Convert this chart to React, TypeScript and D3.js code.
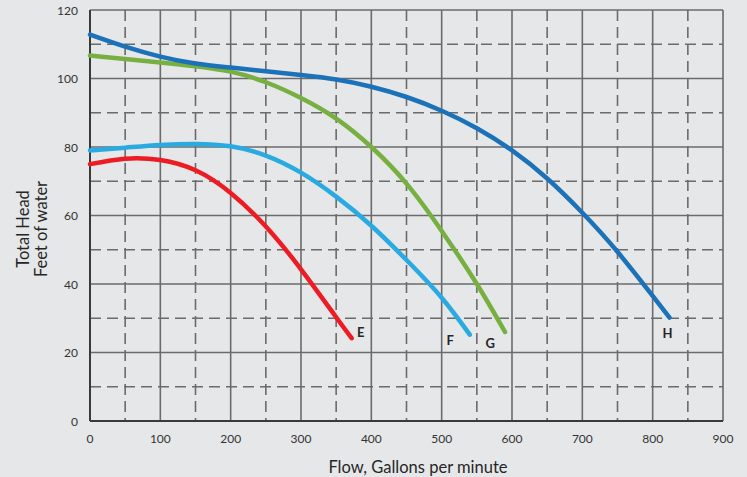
import React from "react";
import * as d3 from "d3";

const W = 747;
const H = 477;

const xTicks = [0, 100, 200, 300, 400, 500, 600, 700, 800, 900];
const yTicks = [0, 20, 40, 60, 80, 100, 120];

const seriesNames = ["E", "F", "G", "H"];
const seriesColors = ["#ed1c24", "#29abe2", "#77b041", "#1b72b9"];

const curveE: [number, number][] = [
  [0, 75], [50, 76.6], [100, 76.2], [150, 73.2], [200, 66.6], [250, 56.8],
  [300, 44.3], [350, 30.3], [372, 24.2],
];
const curveF: [number, number][] = [
  [0, 79], [50, 79.8], [100, 80.6], [150, 80.9], [200, 80.2], [250, 77.5],
  [300, 72.5], [350, 65.5], [400, 57], [450, 47], [500, 36], [540, 25.2],
];
const curveG: [number, number][] = [
  [0, 106.7], [50, 105.7], [100, 104.7], [150, 103.6], [200, 102], [250, 98.9],
  [300, 94.3], [350, 88.3], [400, 80], [450, 69.3], [500, 55.5], [550, 40],
  [590, 26],
];
const curveH: [number, number][] = [
  [0, 112.8], [50, 109.3], [100, 106.4], [150, 104.4], [200, 103.2], [250, 102.1],
  [300, 101], [350, 99.7], [400, 97.6], [450, 94.6], [500, 90.6], [550, 85.5],
  [600, 79], [650, 70.8], [700, 60.8], [750, 49.4], [800, 36.5], [824, 30.2],
];
const curves = [curveE, curveF, curveG, curveH];

// label anchors in data units
const labelX = [385, 512, 569, 821];
const labelY = [26, 23.6, 22.8, 25.7];

export default function App() {
  const x = d3.scaleLinear().domain([0, 900]).range([90, 723]);
  const y = d3.scaleLinear().domain([0, 120]).range([421, 10]);
  const line = d3
    .line<[number, number]>()
    .x((d) => x(d[0]))
    .y((d) => y(d[1]))
    .curve(d3.curveNatural);

  const majorX = d3.range(100, 901, 100);
  const minorX = d3.range(50, 900, 100);
  const majorY = d3.range(20, 121, 20);
  const minorY = d3.range(10, 120, 20);
  const font = "Lato, 'Open Sans', sans-serif";
  const gridColor = "#6b6b6b";

  return (
    <div style={{ position: "absolute", left: 0, top: 0 }}>
      <svg width={W} height={H} style={{ display: "block" }}>
        <rect x={0} y={0} width={W} height={H} fill="#e6e7e8" />
        {minorX.map((v) => (
          <line key={"mx" + v} x1={x(v)} x2={x(v)} y1={y(120)} y2={y(0)}
            stroke={gridColor} strokeWidth={1.6} strokeDasharray="11,6" />
        ))}
        {minorY.map((v) => (
          <line key={"my" + v} x1={x(0)} x2={x(900)} y1={y(v)} y2={y(v)}
            stroke={gridColor} strokeWidth={1.6} strokeDasharray="11,6" />
        ))}
        {majorX.map((v) => (
          <line key={"Mx" + v} x1={x(v)} x2={x(v)} y1={y(120)} y2={y(0)}
            stroke={gridColor} strokeWidth={1.6} />
        ))}
        {majorY.map((v) => (
          <line key={"My" + v} x1={x(0)} x2={x(900)} y1={y(v)} y2={y(v)}
            stroke={gridColor} strokeWidth={1.6} />
        ))}
        <line x1={x(0)} x2={x(0)} y1={y(120)} y2={y(0)} stroke="#3a3a3a" strokeWidth={2} />
        <line x1={x(0)} x2={x(900)} y1={y(0)} y2={y(0)} stroke="#3a3a3a" strokeWidth={2} />

        {curves.map((c, i) => (
          <path key={seriesNames[i]} d={line(c) || ""} fill="none"
            stroke={seriesColors[i]} strokeWidth={4.5} strokeLinecap="round" />
        ))}
        {seriesNames.map((n, i) => (
          <text key={"l" + n} x={x(labelX[i])} y={y(labelY[i])} textAnchor="middle"
            dominantBaseline="central" fontFamily={font} fontWeight="bold"
            fontSize={13} fill="#262626">{n}</text>
        ))}

        {yTicks.map((v) => (
          <text key={"yt" + v} x={78} y={y(v)} textAnchor="end" dominantBaseline="central"
            fontFamily={font} fontSize={12} fill="#333">{v}</text>
        ))}
        {xTicks.map((v) => (
          <text key={"xt" + v} x={x(v)} y={438} textAnchor="middle" dominantBaseline="central"
            fontFamily={font} fontSize={12} fill="#333">{v}</text>
        ))}
        <text x={418} y={467} textAnchor="middle" dominantBaseline="central"
          fontFamily={font} fontSize={16.5} fill="#262626">Flow, Gallons per minute</text>
        <text transform="translate(23,229) rotate(-90)" textAnchor="middle"
          dominantBaseline="central" fontFamily={font} fontSize={16.5} fill="#262626">Total Head</text>
        <text transform="translate(41,229) rotate(-90)" textAnchor="middle"
          dominantBaseline="central" fontFamily={font} fontSize={16.5} fill="#262626">Feet of water</text>
      </svg>
    </div>
  );
}
